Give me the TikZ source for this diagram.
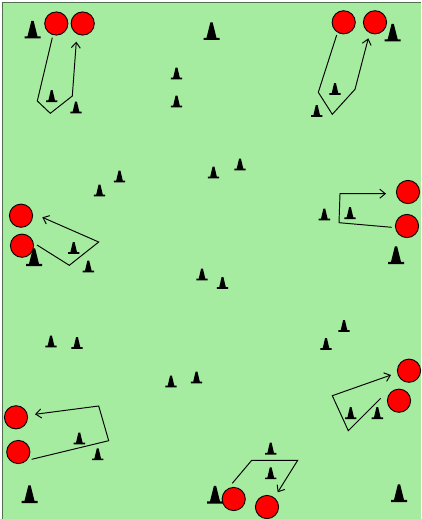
\documentclass[tikz,border=0pt]{standalone}
\usetikzlibrary{arrows.meta}
\definecolor{fieldgreen}{HTML}{A5EBA0}
\definecolor{fieldedge}{HTML}{4F6F4F}
\definecolor{playerred}{HTML}{FF0000}
\tikzset{
  player/.style={circle,draw=black,line width=0.9pt,fill=playerred,minimum size=23.2pt,inner sep=0pt},
  run/.style={draw=black,line width=0.95pt,-{Straight Barb[length=5.5pt,width=9pt]}},
  conesmall/.style={fill=black},
  conebig/.style={fill=black}
}
\newcommand{\smallcone}[2]{\fill[conesmall] (#1-5.7,#2+5.8) -- (#1-5.7,#2+4.2) -- (#1-3.3,#2+4.2) -- (#1-0.9,#2-6) -- (#1+0.9,#2-6) -- (#1+3.3,#2+4.2) -- (#1+5.7,#2+4.2) -- (#1+5.7,#2+5.8) -- cycle;}
\newcommand{\bigcone}[2]{\fill[conebig] (#1-8,#2+9) -- (#1-8,#2+6.8) -- (#1-5,#2+6.8) -- (#1-1.1,#2-8.7) -- (#1+1.1,#2-8.7) -- (#1+5,#2+6.8) -- (#1+8,#2+6.8) -- (#1+8,#2+9) -- cycle;}
\begin{document}
\begin{tikzpicture}[x=1pt,y=-1pt]
\useasboundingbox (0,0) rectangle (421,519);
\fill[white] (0,0) rectangle (421,519);
\fill[fieldgreen] (2.5,2.5) rectangle (421,519);
\draw[fieldedge,line width=1pt] (2.8,519) -- (2.8,2.8) -- (421,2.8);
% big cones
\bigcone{32.5}{29.5}\bigcone{211.5}{31}\bigcone{392.7}{32.5}\bigcone{396}{255}
\bigcone{34}{257}\bigcone{29.5}{494}\bigcone{215}{494.5}\bigcone{399}{493}
% small cones
\smallcone{51.7}{96.2}\smallcone{76}{107.5}\smallcone{176.5}{73.5}\smallcone{176.5}{101.5}
\smallcone{335}{89}\smallcone{316.7}{111}\smallcone{119.5}{176.5}\smallcone{99.5}{190.5}
\smallcone{213.5}{172.5}\smallcone{240}{164.5}\smallcone{324.3}{214.5}\smallcone{350}{213.2}
\smallcone{73.7}{248}\smallcone{88.3}{266.5}\smallcone{202}{274.5}\smallcone{222.5}{283}
\smallcone{344}{326}\smallcone{326}{344}\smallcone{51}{341.5}\smallcone{77}{343}
\smallcone{171}{381.5}\smallcone{196.5}{377.5}\smallcone{350.7}{413.2}\smallcone{377.3}{413.2}
\smallcone{79.3}{438.5}\smallcone{97.7}{454.3}\smallcone{270.7}{448.7}\smallcone{270.7}{473.3}
% players
\node[player] (tla) at (56.3,23.5) {};
\node[player] (tlb) at (82.7,23.5) {};
\node[player] (tra) at (343.7,22.3) {};
\node[player] (trb) at (375,22.3) {};
\node[player] (ra) at (407,226) {};
\node[player] (rb) at (408,192) {};
\node[player] (la) at (22,245.7) {};
\node[player] (lb) at (21,215.7) {};
\node[player] (bra) at (399,400.7) {};
\node[player] (brb) at (409,370.7) {};
\node[player] (bla) at (18.3,452) {};
\node[player] (blb) at (16,417.3) {};
\node[player] (ba) at (233.7,499) {};
\node[player] (bb) at (267,507) {};
% run ends
\coordinate (tlstart) at (52.3,37.7);
\coordinate (trstart) at (336.7,35);
\coordinate (rstart) at (391.7,227.3);
\coordinate (lstart) at (37,245);
\coordinate (brstart) at (380.7,398.3);
\coordinate (blstart) at (31.7,459.3);
\coordinate (bstart) at (232.3,483.3);
\coordinate (tlend) at (76.3,41.7);
\coordinate (trend) at (368.3,38.3);
\coordinate (rend) at (386,193.7);
\coordinate (lend) at (42.3,217.3);
\coordinate (brend) at (391,375);
\coordinate (blend) at (35,414.3);
\coordinate (bend) at (277.7,492.3);
% runs
\draw[run] (tlstart) -- (37.3,101) -- (50.3,113.3) -- (72.3,96) -- (tlend);
\draw[run] (trstart) -- (318.3,92.3) -- (332.3,114.3) -- (355,89.3) -- (trend);
\draw[run] (rstart) -- (339,222.7) -- (340,193.7) -- (rend);
\draw[run] (lstart) -- (69.3,265.3) -- (98.7,242) -- (lend);
\draw[run] (brstart) -- (348.3,430.7) -- (332.3,395.7) -- (brend);
\draw[run] (blstart) -- (108.7,440.7) -- (98.7,406) -- (blend);
\draw[run] (bstart) -- (251.7,460.3) -- (297.7,460.3) -- (bend);
\end{tikzpicture}
\end{document}
